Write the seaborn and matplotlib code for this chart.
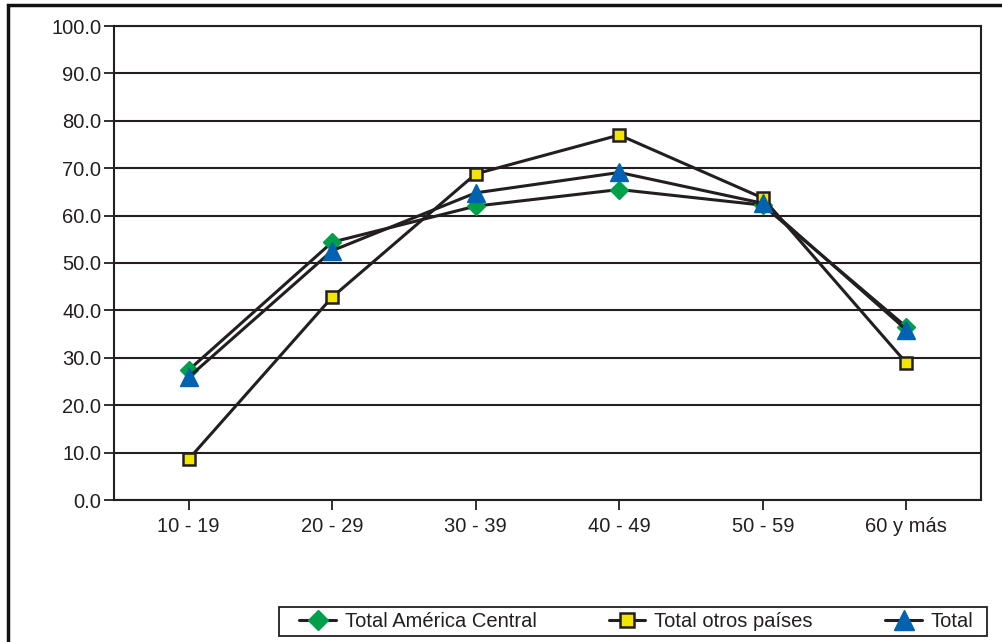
import matplotlib
matplotlib.use("Agg")
import matplotlib.pyplot as plt
import seaborn as sns
import pandas as pd
from matplotlib.patches import Rectangle

categories = ["10 - 19", "20 - 29", "30 - 39", "40 - 49", "50 - 59", "60 y más"]
america_central = [27.4, 54.4, 62.0, 65.5, 62.2, 36.5]
otros_paises = [8.6, 42.8, 68.8, 77.0, 63.7, 28.9]
total = [25.9, 52.6, 64.8, 69.1, 62.6, 35.9]
y_ticks = [0, 10, 20, 30, 40, 50, 60, 70, 80, 90, 100]

series = [
    ("Total América Central", america_central, "D", "#00a04b", "#00a04b", 9.0, 1.0),
    ("Total otros países", otros_paises, "s", "#f2e600", "#231f20", 8.5, 1.8),
    ("Total", total, "^", "#0062b1", "#0062b1", 12.5, 1.0),
]

sns.set_theme(style="white")
plt.rcParams["font.family"] = ["Liberation Sans", "DejaVu Sans"]

fig = plt.figure(figsize=(10.03, 6.42), dpi=100)
ax = fig.add_axes([114 / 1003, 1 - 500 / 642, (981 - 114) / 1003, (500 - 26) / 642])

ink = "#231f20"
pos = list(range(len(categories)))
for name, vals, mk, fc, ec, ms, mew in series:
    df = pd.DataFrame({"x": pos, "y": vals})
    sns.lineplot(data=df, x="x", y="y", ax=ax, color=ink, lw=2.2, sort=False,
                 marker=mk, markersize=ms, markerfacecolor=fc, markeredgecolor=ec,
                 markeredgewidth=mew, label=name, zorder=3)

ax.set_xlim(-0.52, len(categories) - 1 + 0.52)
ax.set_ylim(0, 100)
ax.set_xticks(pos)
ax.set_xticklabels(categories)
ax.set_yticks(y_ticks)
ax.set_yticklabels([f"{v:.1f}" for v in y_ticks])
ax.set_xlabel("")
ax.set_ylabel("")
ax.grid(axis="y", color=ink, lw=1.5)
ax.set_axisbelow(True)
for s in ax.spines.values():
    s.set_visible(True)
    s.set_color(ink)
    s.set_linewidth(1.5)
ax.tick_params(axis="both", which="major", direction="out", length=7, width=1.3,
               color=ink, labelsize=14.5, labelcolor=ink, bottom=True, left=True)
ax.tick_params(axis="y", pad=2)
ax.tick_params(axis="x", pad=5)

handles, labels = ax.get_legend_handles_labels()
ax.get_legend().remove()
leg = fig.legend(handles, labels, loc="center", ncol=3,
                 bbox_to_anchor=(636.5 / 1003, 1 - 621.5 / 642),
                 frameon=False, fontsize=14.5,
                 borderaxespad=0, handlelength=1.8, handletextpad=0.45,
                 borderpad=0, columnspacing=3.6, markerscale=1.15)
for t in leg.get_texts():
    t.set_color(ink)

# legend box
fig.patches.append(Rectangle((279 / 1003, 1 - 636 / 642), (987 - 279) / 1003, 29 / 642,
                             transform=fig.transFigure, fill=False,
                             edgecolor=ink, lw=1.3, zorder=1))

# outer chart frame (left and top edges visible)
fig.patches.append(Rectangle((8 / 1003, -0.05), 1.2, 1 - 5 / 642 + 0.05,
                             transform=fig.transFigure, fill=False,
                             edgecolor="#111111", lw=2.5, zorder=0))

fig.savefig("out.png", dpi=100)
